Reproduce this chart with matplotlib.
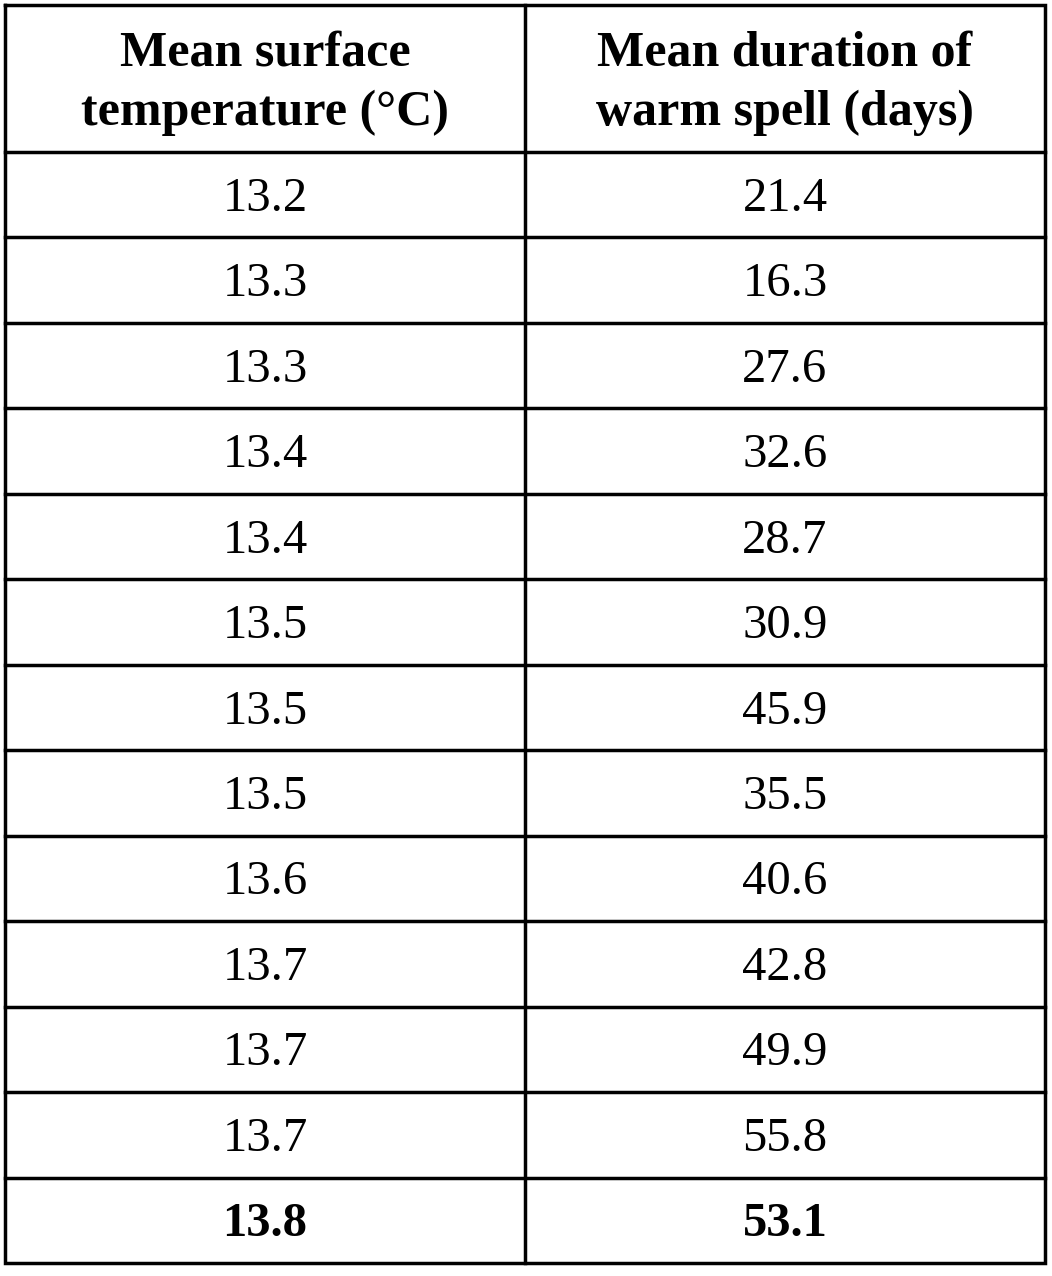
import matplotlib
matplotlib.use("Agg")
import matplotlib.pyplot as plt

headers = ["Mean surface\ntemperature (°C)", "Mean duration of\nwarm spell (days)"]
temperature = ["13.2", "13.3", "13.3", "13.4", "13.4", "13.5", "13.5", "13.5",
               "13.6", "13.7", "13.7", "13.7", "13.8"]
duration = ["21.4", "16.3", "27.6", "32.6", "28.7", "30.9", "45.9", "35.5",
            "40.6", "42.8", "49.9", "55.8", "53.1"]
bold_rows = [12]

W, H = 1052, 1276
fig = plt.figure(figsize=(W / 100, H / 100), dpi=100)
ax = fig.add_axes([0, 0, 1, 1])
ax.set_xlim(0, W)
ax.set_ylim(H, 0)
ax.axis("off")

font = ["Liberation Serif", "DejaVu Serif"]
left, right, mid = 5, 1045, 525
top, head_bottom, bottom = 5, 152, 1263
n = len(temperature)
row_h = (bottom - head_bottom) / n
lw = 2.5

# borders
ax.plot([left, right, right, left, left], [top, top, bottom, bottom, top], color="black", lw=lw,
        solid_joinstyle="miter")
ax.plot([mid, mid], [top, bottom], color="black", lw=lw)
ax.plot([left, right], [head_bottom, head_bottom], color="black", lw=lw)
for i in range(1, n):
    y = head_bottom + i * row_h
    ax.plot([left, right], [y, y], color="black", lw=lw)

cx = [(left + mid) / 2, (mid + right) / 2]
for j, h in enumerate(headers):
    ax.text(cx[j], (top + head_bottom) / 2 + 5, h, ha="center", va="center", fontsize=36,
            fontweight="bold", family=font, linespacing=1.38)

for i in range(n):
    y = head_bottom + (i + 0.5) * row_h + 4
    w = "bold" if i in bold_rows else "normal"
    ax.text(cx[0], y, temperature[i], ha="center", va="center", fontsize=35, fontweight=w, family=font)
    ax.text(cx[1], y, duration[i], ha="center", va="center", fontsize=35, fontweight=w, family=font)

fig.savefig("out.png", dpi=100, facecolor="white")
